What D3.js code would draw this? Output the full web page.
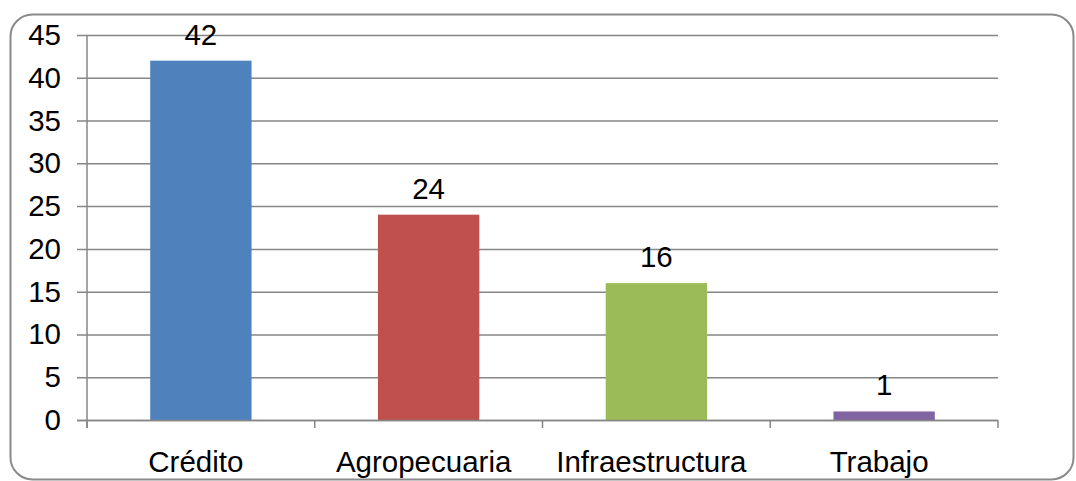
<!DOCTYPE html>
<html><head><meta charset="utf-8">
<script src="https://cdn.jsdelivr.net/npm/d3@7"></script>
<style>body{margin:0;background:#fff}svg{display:block}text{font-family:"Liberation Sans",Arial,sans-serif;fill:#000}</style>
</head><body><svg id="c" width="1076" height="481"></svg>
<script>
const categories = ["Crédito","Agropecuaria","Infraestructura","Trabajo"];
const values = [42,24,16,1];
const colors = ["#4F81BD","#C0504D","#9BBB59","#8064A2"];
const yTicks = [0,5,10,15,20,25,30,35,40,45];

const svg = d3.select("#c");
svg.append("rect").attr("x",10.5).attr("y",14.5).attr("width",1063).attr("height",465)
  .attr("rx",22).attr("fill","#fff").attr("stroke","#8a8a8a").attr("stroke-width",2);

const L=87, R=998, T=35, B=420;
const FS=29.5;
const x = d3.scaleBand().domain(categories).range([L,R]).padding(0);
const y = d3.scaleLinear().domain([0,45]).range([B,T]);
const grid="#868686";

svg.append("g").selectAll("line").data(yTicks).join("line")
  .attr("x1",77).attr("x2",R).attr("y1",d=>y(d)+0.5).attr("y2",d=>y(d)+0.5)
  .attr("stroke",grid).attr("stroke-width",1.5);

svg.append("g").selectAll("text").data(yTicks).join("text")
  .attr("x",61).attr("y",d=>y(d)+10).attr("text-anchor","end")
  .attr("font-size",FS).text(d=>d);

const bw = x.bandwidth()*0.445;
svg.append("g").selectAll("rect").data(values).join("rect")
  .attr("x",(d,i)=>x(categories[i])+x.bandwidth()/2-bw/2)
  .attr("width",bw)
  .attr("y",d=>y(d)).attr("height",d=>B-y(d))
  .attr("fill",(d,i)=>colors[i]);

svg.append("line").attr("x1",L).attr("x2",L).attr("y1",T).attr("y2",B+8).attr("stroke",grid).attr("stroke-width",1.5);
svg.append("line").attr("x1",77).attr("x2",R).attr("y1",B+0.5).attr("y2",B+0.5).attr("stroke",grid).attr("stroke-width",1.5);
const bounds = categories.map(c=>x(c)).concat([R]);
svg.append("g").selectAll("line").data(bounds).join("line")
  .attr("x1",d=>d).attr("x2",d=>d).attr("y1",B).attr("y2",B+8)
  .attr("stroke",grid).attr("stroke-width",1.5);

svg.append("g").selectAll("text").data(values).join("text")
  .attr("x",(d,i)=>x(categories[i])+x.bandwidth()/2)
  .attr("y",d=>y(d)-16).attr("text-anchor","middle").attr("font-size",FS).text(d=>d);

svg.append("g").selectAll("text").data(categories).join("text")
  .attr("x",d=>x(d)+x.bandwidth()/2-5).attr("y",472).attr("text-anchor","middle")
  .attr("font-size",FS).text(d=>d);
</script></body></html>
